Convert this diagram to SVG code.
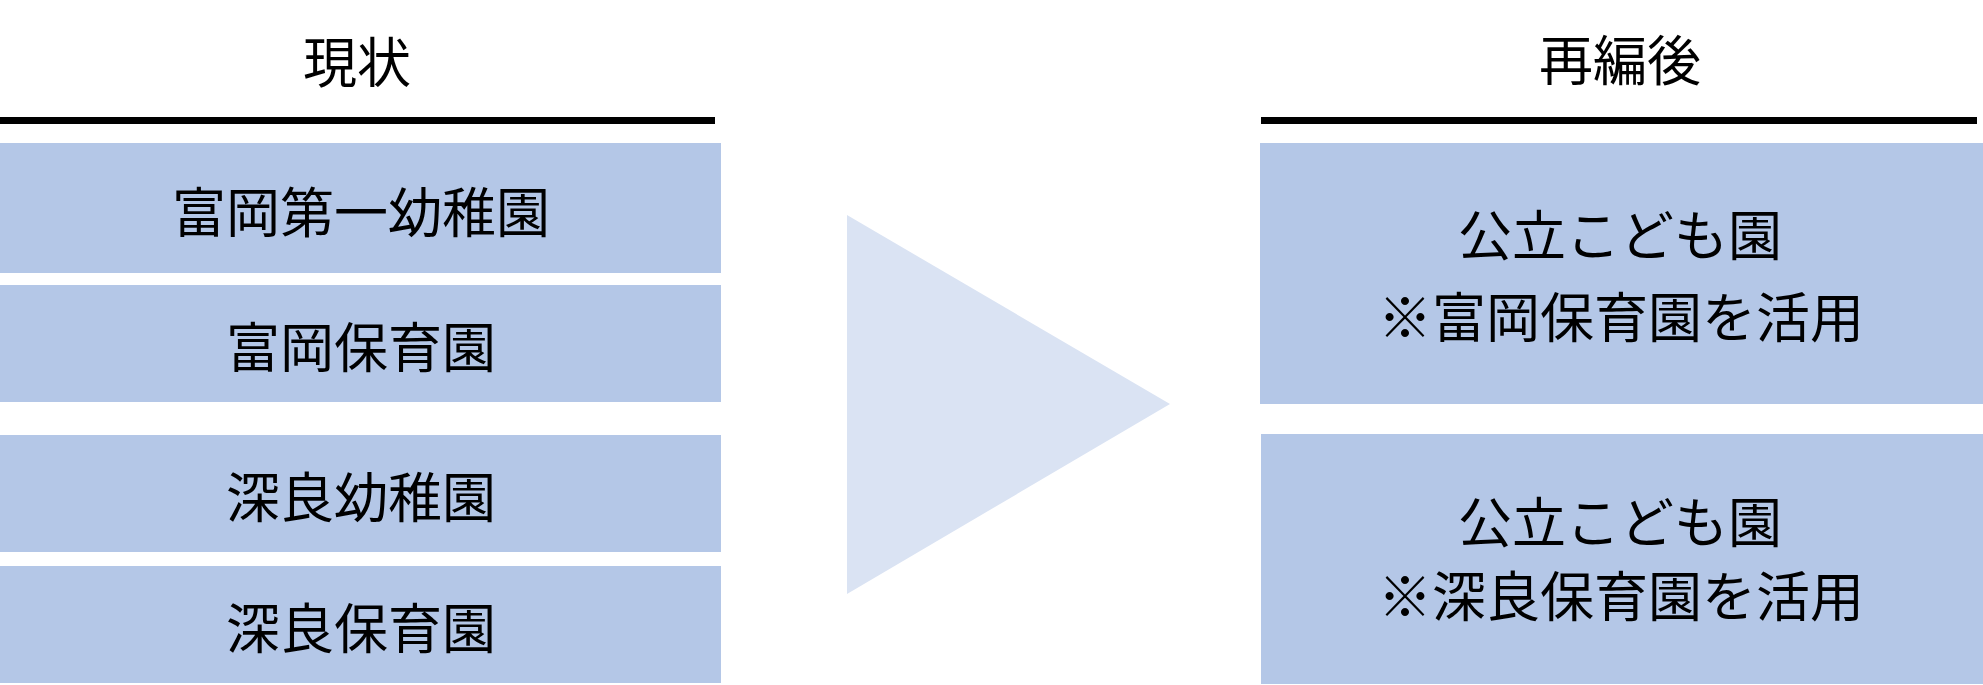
<svg xmlns="http://www.w3.org/2000/svg" width="1983" height="685" viewBox="0 0 1983 685">
<style>
.box{fill:#B4C7E7}
.t{font-family:"Noto Sans CJK JP","Noto Sans CJK SC",sans-serif;font-size:54px;fill:#000;text-anchor:middle;dominant-baseline:central}
.rule{stroke:#000;stroke-width:7}
</style>
<rect width="1983" height="685" fill="#fff"/>
<g id="header-current">
<text class="t" x="357" y="59">現状</text>
<line class="rule" x1="0" y1="120.5" x2="715" y2="120.5"/>
</g>
<g id="header-after">
<text class="t" x="1620" y="57">再編後</text>
<line class="rule" x1="1261" y1="120.5" x2="1977" y2="120.5"/>
</g>
<g id="node-tomioka-kinder">
<rect class="box" x="0" y="143" width="721" height="130"/>
<text class="t" x="361" y="209">富岡第一幼稚園</text>
</g>
<g id="node-tomioka-nursery">
<rect class="box" x="0" y="285" width="721" height="117"/>
<text class="t" x="361" y="344">富岡保育園</text>
</g>
<g id="node-fukara-kinder">
<rect class="box" x="0" y="435" width="721" height="117"/>
<text class="t" x="361" y="494">深良幼稚園</text>
</g>
<g id="node-fukara-nursery">
<rect class="box" x="0" y="566" width="721" height="117"/>
<text class="t" x="361" y="625">深良保育園</text>
</g>
<g id="connectors">
<polygon points="847,215 1170,404 847,594" fill="#DAE3F3"/>
</g>
<g id="node-public-1">
<rect class="box" x="1260" y="143" width="723" height="261"/>
<text class="t" x="1620" y="232">公立こども園</text>
<text class="t" x="1621" y="314">※富岡保育園を活用</text>
</g>
<g id="node-public-2">
<rect class="box" x="1261" y="434" width="722" height="250"/>
<text class="t" x="1620" y="519">公立こども園</text>
<text class="t" x="1621" y="593">※深良保育園を活用</text>
</g>
</svg>
